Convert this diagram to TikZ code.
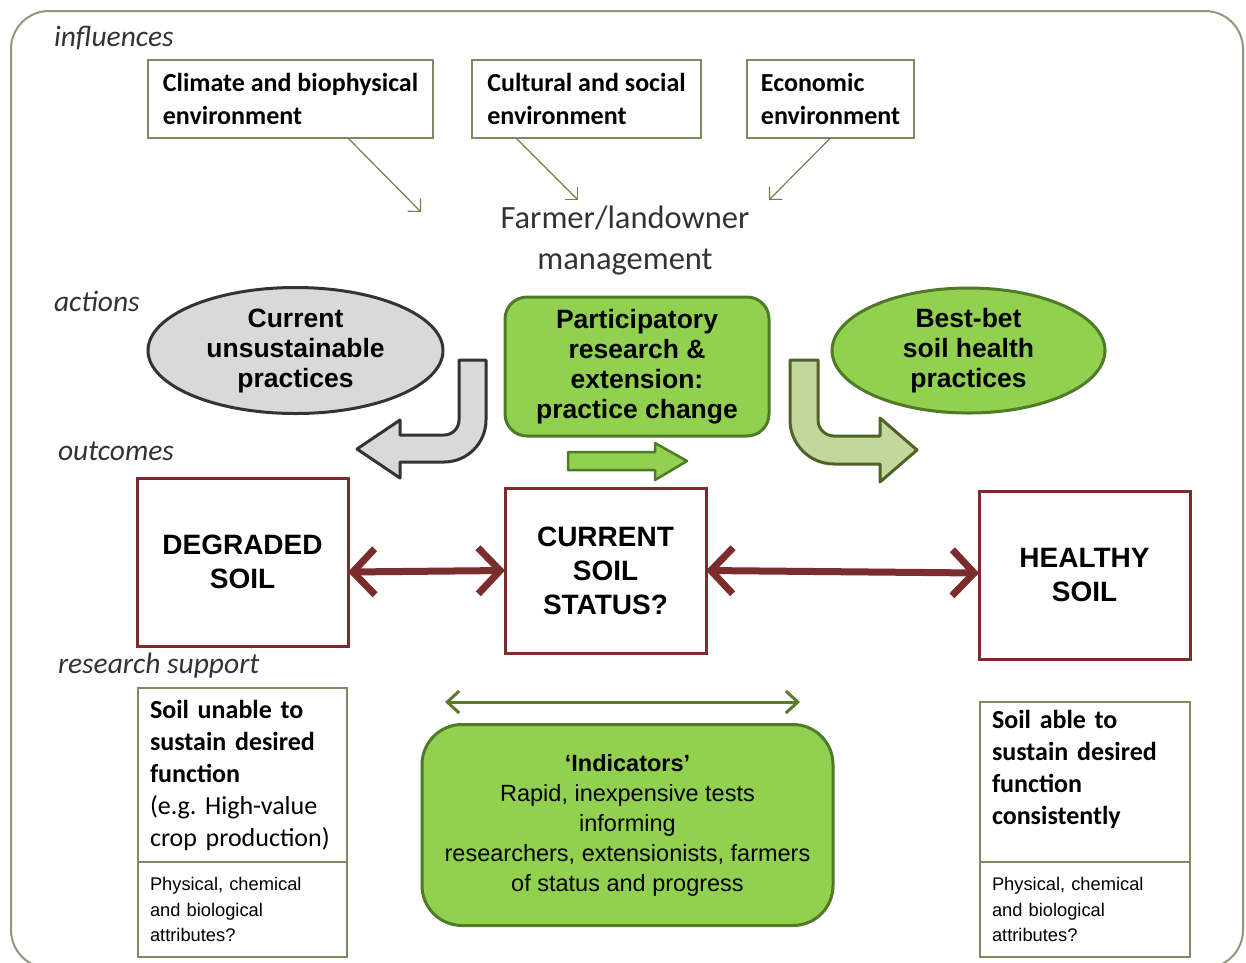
\documentclass[tikz,border=0pt]{standalone}
\usepackage{fontspec}
\setmainfont{Carlito}
\newfontfamily\arialfont{Liberation Sans}
\usetikzlibrary{shapes.geometric,arrows.meta}
\definecolor{framegray}{HTML}{8C9A7C}
\definecolor{boxolive}{HTML}{7E8C62}
\definecolor{arrowolive}{HTML}{6F8048}
\definecolor{linkolive}{HTML}{5C7A2E}
\definecolor{leafgreen}{HTML}{92D050}
\definecolor{leafdark}{HTML}{4F7A28}
\definecolor{palegreen}{HTML}{C3D69B}
\definecolor{paledark}{HTML}{4F6228}
\definecolor{soilred}{HTML}{7B2C2C}
\definecolor{stonegray}{HTML}{D9D9D9}
\definecolor{labelgray}{HTML}{333333}
\frenchspacing

\begin{document}
\begin{tikzpicture}[x=1pt, y=-1pt, every node/.style={inner sep=0pt, outer sep=0pt}]
	\tikzstyle{sidelabel} = [anchor=west, text=labelgray, font=\itshape\fontsize{29.5}{34}\selectfont]
	\tikzstyle{influence} = [draw=boxolive, line width=1.2pt, fill=white, align=left, minimum height=78pt, font=\bfseries\fontsize{26}{33}\selectfont]
	\tikzstyle{influencearrow} = [draw=arrowolive, line width=1.2pt, -{Straight Barb[length=9pt,width=18pt]}]
	\tikzstyle{stoneoval} = [ellipse, draw=black!80, line width=3pt, fill=stonegray, align=center, font=\arialfont\bfseries\fontsize{26.5}{30}\selectfont]
	\tikzstyle{leafoval} = [ellipse, draw=leafdark, line width=3pt, fill=leafgreen, align=center, font=\arialfont\bfseries\fontsize{26.5}{30}\selectfont]
	\tikzstyle{leafbox} = [rectangle, rounded corners=22pt, draw=leafdark, line width=3pt, fill=leafgreen, align=center, font=\arialfont\bfseries\fontsize{26.5}{30}\selectfont]
	\tikzstyle{soilbox} = [rectangle, draw=soilred, line width=3pt, fill=white, align=center, font=\arialfont\bfseries\fontsize{28}{34}\selectfont]
	\tikzstyle{soillink} = [draw=soilred, line width=7pt, {Straight Barb[length=22pt,width=46pt]}-{Straight Barb[length=22pt,width=46pt]}]
	\tikzstyle{indicatorlink} = [draw=linkolive, line width=3pt, {Straight Barb[length=12pt,width=22pt]}-{Straight Barb[length=12pt,width=22pt]}]
	\tikzstyle{support} = [rectangle, draw=boxolive, line width=1.2pt, fill=white, align=left, text width=185pt, inner xsep=12pt]
	
	\clip (0,0) rectangle (1246,962);
	\fill[white] (0,0) rectangle (1246,962);
	\draw[framegray, line width=2pt, rounded corners=38pt] (11,11) rectangle (1243,968);
	
	\node[sidelabel] (influences) at (54,38) {influences};
	\node[sidelabel] (actions) at (54,301) {actions};
	\node[sidelabel] (outcomes) at (58,451) {outcomes};
	\node[sidelabel] (research) at (58,666) {research support};
	
	\node[influence, minimum width=285pt] (climate) at (290.5,99) {Climate and biophysical\\environment};
	\node[influence, minimum width=229pt] (cultural) at (586.5,99) {Cultural and social\\environment};
	\node[influence, minimum width=167pt] (economic) at (830.5,99) {Economic\\environment};
	
	\node[text=labelgray, align=center, font=\fontsize{32.5}{41}\selectfont] (farmer) at (625,241) {Farmer/landowner\\management};
	\coordinate (farmerleft) at (421,212);
	\coordinate (farmertop) at (578,200);
	\coordinate (farmerright) at (769,200);
	
	\draw[influencearrow] ([xshift=57.5pt]climate.south) -- (farmerleft);
	\draw[influencearrow] ([xshift=-70.5pt]cultural.south) -- (farmertop);
	\draw[influencearrow] (economic.south) -- (farmerright);
	
	\node[stoneoval, minimum width=295pt, minimum height=126pt] (unsustainable) at (295.5,350.5) {Current\\unsustainable\\practices};
	\node[leafbox, minimum width=264pt, minimum height=139pt] (participatory) at (637,366.5) {Participatory\\research \&\\extension:\\practice change};
	\node[leafoval, minimum width=273pt, minimum height=125pt] (bestbet) at (968.5,350.5) {Best-bet\\soil health\\practices};
	
	\draw[fill=stonegray, draw=black!80, line width=3pt, line join=round] (459,360) -- (486,360) -- (486,420) arc[start angle=0, end angle=90, radius=42] -- (400,462) -- (400,478) -- (357,449) -- (400,420) -- (400,435) -- (444,435) arc[start angle=90, end angle=0, radius=15] -- cycle;
	\draw[fill=leafgreen, draw=leafdark, line width=2.5pt, line join=round] (568,452) -- (655,452) -- (655,443) -- (687,461) -- (655,480) -- (655,470) -- (568,470) -- cycle;
	\draw[fill=palegreen, draw=paledark, line width=3pt, line join=round] (790,360) -- (818,360) -- (818,420) arc[start angle=180, end angle=90, radius=16] -- (880,436) -- (880,418) -- (917,450) -- (880,482) -- (880,464) -- (834,464) arc[start angle=90, end angle=180, radius=44] -- cycle;
	
	\node[soilbox, minimum width=211pt, minimum height=168pt] (degraded) at (242.5,562) {DEGRADED\\SOIL};
	\node[soilbox, minimum width=201pt, minimum height=165pt] (current) at (605.5,570.5) {CURRENT\\SOIL\\STATUS?};
	\node[soilbox, minimum width=211pt, minimum height=168pt] (healthy) at (1084.5,575) {HEALTHY\\SOIL};
	
	\draw[soillink] ([yshift=-10pt]degraded.east) -- (current.west);
	\draw[soillink] (current.east) -- ([yshift=2pt]healthy.west);
	
	\node[leafbox, rounded corners=40pt, minimum width=411pt, minimum height=201pt, font=\arialfont\fontsize{23.5}{30}\selectfont] (indicators) at (627.5,825) {{\bfseries ‘Indicators’}\\Rapid, inexpensive tests\\informing\\researchers, extensionists, farmers\\of status and progress};
	\draw[indicatorlink] ([xshift=23pt,yshift=22.5pt]indicators.north west) -- ([xshift=-33pt,yshift=22.5pt]indicators.north east);
	
	\node[support, minimum height=174pt, font=\fontsize{26}{32}\selectfont] (unable) at (242.5,775) {\textbf{Soil unable to}\\\textbf{sustain desired}\\\textbf{function}\\(e.g. High-value\\crop production)};
	\node[support, minimum height=95pt, font=\arialfont\fontsize{18.3}{25.5}\selectfont] (unableattr) at (242.5,909.5) {Physical, chemical\\and biological\\attributes?};
	\node[support, text width=186pt, minimum height=162pt, font=\fontsize{26}{32}\selectfont] (able) at (1085,783) {\textbf{Soil able to}\\\textbf{sustain desired}\\\textbf{function}\\\textbf{consistently}\\\mbox{}};
	\node[support, text width=186pt, minimum height=95pt, font=\arialfont\fontsize{18.3}{25.5}\selectfont] (ableattr) at (1085,909.5) {Physical, chemical\\and biological\\attributes?};
\end{tikzpicture}
\end{document}
